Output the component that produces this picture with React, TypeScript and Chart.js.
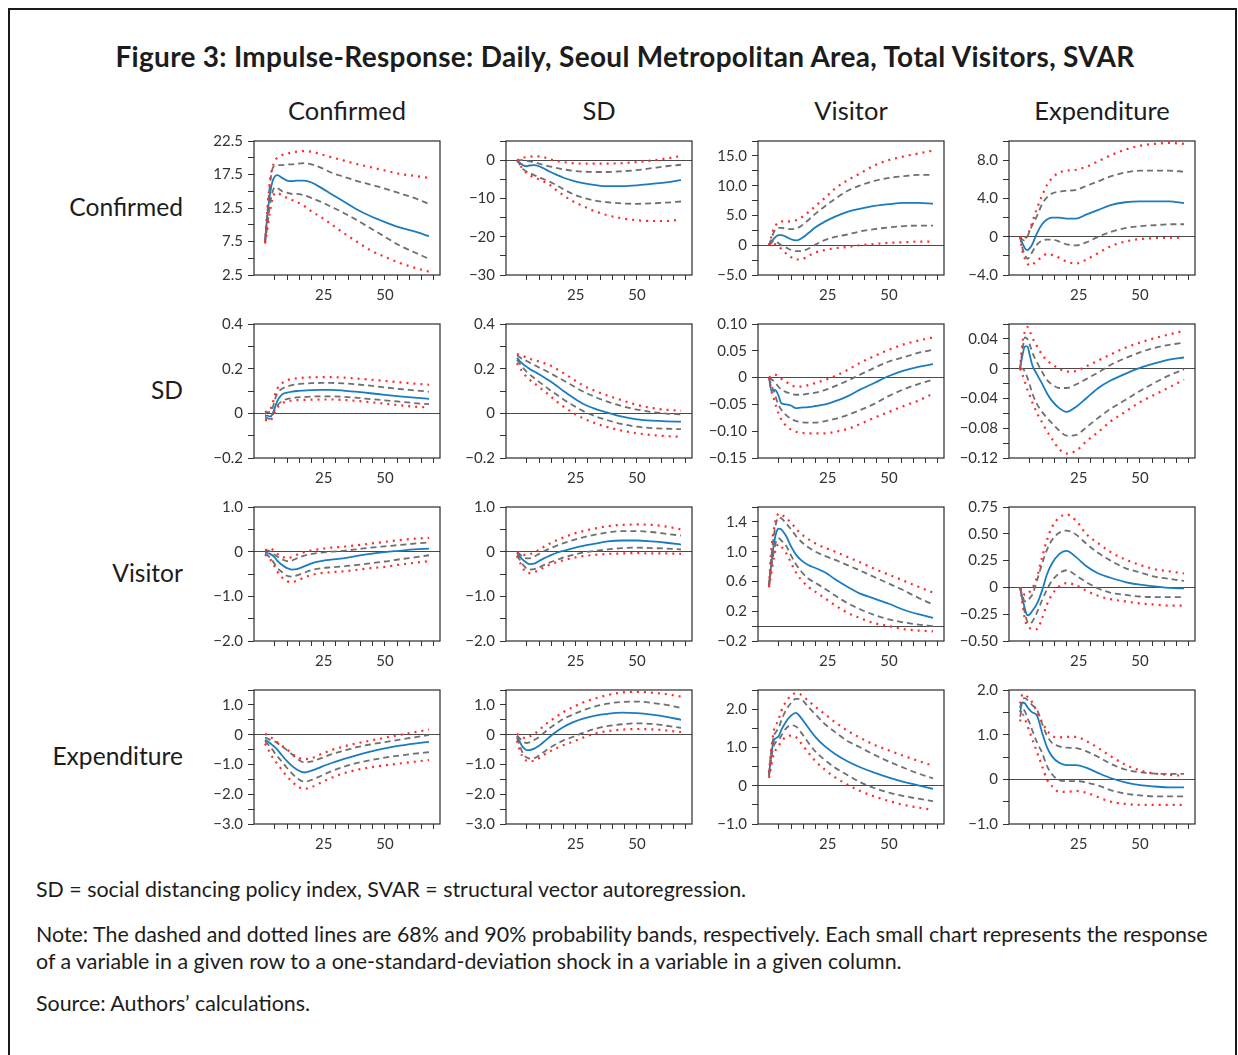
import React, { useEffect, useRef } from 'react';
import { Chart, registerables } from 'chart.js';

Chart.register(...registerables);

// ---------------- data ----------------
const X = [1, 2, 3, 4, 5, 6, 8, 10, 12, 14, 17, 20, 24, 28, 33, 38, 44, 50, 56, 62, 68];
const X_TICKS = [5, 10, 15, 20, 25, 30, 35, 40, 45, 50, 55, 60, 65, 70];
const X_TICK_LABELS = ['', '', '', '', '25', '', '', '', '', '50', '', '', '', ''];

const COL_TITLES = ['Confirmed', 'SD', 'Visitor', 'Expenditure'];
const ROW_TITLES = ['Confirmed', 'SD', 'Visitor', 'Expenditure'];

const TITLE = 'Figure 3: Impulse-Response: Daily, Seoul Metropolitan Area, Total Visitors, SVAR';
const NOTE_1 = 'SD = social distancing policy index, SVAR = structural vector autoregression.';
const NOTE_2a = 'Note: The dashed and dotted lines are 68% and 90% probability bands, respectively. Each small chart represents the response';
const NOTE_2b = 'of a variable in a given row to a one-standard-deviation shock in a variable in a given column.';
const NOTE_3 = 'Source: Authors\u2019 calculations.';

// Row 1: Confirmed response
const R1C1_MED = [7.4, 11.5, 14.5, 16.4, 17.2, 17.4, 17.0, 16.6, 16.5, 16.6, 16.6, 16.3, 15.5, 14.6, 13.5, 12.4, 11.3, 10.4, 9.6, 9.0, 8.3];
const R1C1_HI68 = [7.6, 12.0, 16.0, 18.3, 18.8, 18.9, 18.9, 19.0, 19.0, 19.1, 19.2, 19.0, 18.5, 17.8, 17.2, 16.6, 16.0, 15.4, 14.7, 14.0, 13.1];
const R1C1_LO68 = [7.3, 10.0, 13.0, 14.8, 15.6, 15.5, 15.0, 14.8, 14.6, 14.6, 14.4, 14.0, 13.4, 12.7, 11.8, 10.8, 9.5, 8.2, 6.9, 5.9, 4.9];
const R1C1_HI90 = [7.4, 12.5, 16.5, 18.5, 19.5, 20.0, 20.4, 20.6, 20.8, 20.9, 21.0, 20.9, 20.5, 20.1, 19.6, 19.1, 18.6, 18.1, 17.6, 17.3, 17.0];
const R1C1_LO90 = [7.2, 9.5, 12.0, 13.8, 14.7, 14.8, 14.3, 14.0, 13.7, 13.4, 12.8, 12.0, 11.1, 10.1, 8.8, 7.6, 6.2, 5.2, 4.3, 3.6, 3.0];

const R1C2_MED = [0, -0.6, -1.1, -1.5, -1.6, -1.4, -1.3, -1.6, -2.2, -2.9, -3.8, -4.6, -5.4, -6.0, -6.5, -6.8, -6.8, -6.6, -6.2, -5.8, -5.2];
const R1C2_HI68 = [0, 0, 0, -0.1, -0.2, -0.3, -0.5, -0.9, -1.3, -1.6, -2.0, -2.4, -2.8, -3.0, -3.1, -3.1, -2.9, -2.6, -2.1, -1.6, -1.2];
const R1C2_LO68 = [0, -1.0, -2.0, -2.6, -3.0, -3.3, -3.9, -4.5, -5.0, -5.5, -6.5, -7.6, -8.9, -9.8, -10.6, -11.0, -11.3, -11.4, -11.3, -11.1, -10.8];
const R1C2_HI90 = [0, 0.2, 0.5, 0.7, 0.8, 0.9, 1.0, 1.0, 0.8, 0.3, -0.2, -0.5, -0.8, -0.9, -0.9, -0.9, -0.8, -0.5, -0.1, 0.4, 1.1];
const R1C2_LO90 = [0, -1.0, -2.0, -2.8, -3.4, -3.9, -4.5, -5.0, -5.6, -6.3, -7.8, -9.2, -10.8, -12.0, -13.4, -14.4, -15.2, -15.7, -15.9, -15.9, -15.5];

const R1C3_MED = [0, 0.6, 1.1, 1.5, 1.7, 1.7, 1.4, 1.0, 0.8, 1.1, 2.0, 3.0, 4.0, 4.8, 5.6, 6.1, 6.6, 6.9, 7.1, 7.1, 7.0];
const R1C3_HI68 = [0, 1.2, 2.2, 2.7, 2.9, 2.9, 2.8, 2.7, 2.8, 3.2, 4.2, 5.3, 6.6, 7.8, 9.1, 10.0, 10.8, 11.3, 11.6, 11.8, 11.8];
const R1C3_LO68 = [0, 0.4, 0.7, 0.6, 0.3, 0, -0.4, -0.8, -1.0, -1.0, -0.6, 0.1, 0.9, 1.4, 1.8, 2.3, 2.7, 3.0, 3.2, 3.3, 3.3];
const R1C3_HI90 = [0, 1.5, 2.8, 3.5, 3.9, 4.0, 4.0, 4.0, 4.2, 4.6, 5.5, 6.6, 8.0, 9.5, 10.9, 12.0, 13.4, 14.3, 14.9, 15.4, 15.9];
const R1C3_LO90 = [0, 0.5, 0.3, 0, -0.2, -0.6, -1.4, -2.0, -2.4, -2.4, -1.8, -1.2, -0.8, -0.5, -0.3, 0, 0.2, 0.4, 0.5, 0.6, 0.6];

const R1C4_MED = [0, -0.7, -1.2, -1.4, -1.2, -0.8, 0.4, 1.3, 1.8, 2.0, 2.0, 1.9, 1.9, 2.3, 2.8, 3.3, 3.6, 3.7, 3.7, 3.7, 3.5];
const R1C4_HI68 = [0, -0.3, -0.4, 0, 0.6, 1.2, 2.2, 3.4, 4.1, 4.5, 4.7, 4.8, 4.9, 5.3, 5.8, 6.3, 6.7, 6.9, 6.9, 6.9, 6.8];
const R1C4_LO68 = [0, -1.2, -1.9, -2.3, -2.1, -1.6, -0.8, -0.4, -0.3, -0.3, -0.5, -0.8, -0.9, -0.6, 0, 0.5, 0.9, 1.1, 1.2, 1.3, 1.3];
const R1C4_HI90 = [0, -0.3, -0.2, 0.2, 0.7, 1.5, 3.0, 4.3, 5.4, 6.1, 6.7, 6.9, 7.0, 7.3, 7.9, 8.5, 9.1, 9.5, 9.7, 9.8, 9.7];
const R1C4_LO90 = [0, -1.5, -2.3, -2.8, -3.0, -2.9, -2.5, -2.1, -1.8, -1.9, -2.2, -2.6, -2.8, -2.4, -1.7, -1.0, -0.5, -0.25, -0.15, -0.1, -0.1];

// Row 2: SD response
const R2C1_MED = [-0.012, -0.01, -0.015, -0.005, 0.025, 0.055, 0.085, 0.093, 0.097, 0.1, 0.102, 0.104, 0.105, 0.105, 0.102, 0.097, 0.09, 0.083, 0.076, 0.07, 0.065];
const R2C1_HI68 = [-0.005, 0.005, 0.005, 0.02, 0.06, 0.09, 0.11, 0.12, 0.126, 0.13, 0.133, 0.135, 0.136, 0.136, 0.134, 0.13, 0.124, 0.116, 0.109, 0.103, 0.097];
const R2C1_LO68 = [-0.02, -0.022, -0.025, -0.01, 0.015, 0.035, 0.055, 0.064, 0.068, 0.071, 0.073, 0.075, 0.076, 0.076, 0.074, 0.07, 0.064, 0.058, 0.052, 0.046, 0.041];
const R2C1_HI90 = [0.005, 0.01, 0.015, 0.04, 0.08, 0.11, 0.135, 0.148, 0.154, 0.157, 0.16, 0.161, 0.162, 0.162, 0.16, 0.156, 0.151, 0.145, 0.139, 0.133, 0.128];
const R2C1_LO90 = [-0.03, -0.03, -0.035, -0.02, 0.005, 0.025, 0.045, 0.054, 0.057, 0.059, 0.06, 0.061, 0.062, 0.062, 0.06, 0.056, 0.05, 0.043, 0.036, 0.03, 0.026];

const R2C2_MED = [0.248, 0.235, 0.225, 0.215, 0.208, 0.2, 0.187, 0.175, 0.162, 0.148, 0.125, 0.1, 0.07, 0.043, 0.02, 0.003, -0.015, -0.027, -0.033, -0.036, -0.037];
const R2C2_HI68 = [0.26, 0.252, 0.245, 0.24, 0.234, 0.228, 0.217, 0.205, 0.195, 0.183, 0.165, 0.147, 0.122, 0.098, 0.073, 0.052, 0.032, 0.017, 0.006, -0.001, -0.005];
const R2C2_LO68 = [0.24, 0.225, 0.21, 0.197, 0.185, 0.175, 0.158, 0.141, 0.125, 0.108, 0.085, 0.062, 0.035, 0.01, -0.013, -0.031, -0.048, -0.06, -0.066, -0.069, -0.071];
const R2C2_HI90 = [0.265, 0.262, 0.258, 0.254, 0.25, 0.245, 0.238, 0.232, 0.225, 0.218, 0.2, 0.18, 0.152, 0.125, 0.1, 0.08, 0.058, 0.038, 0.024, 0.016, 0.012];
const R2C2_LO90 = [0.225, 0.205, 0.19, 0.175, 0.163, 0.152, 0.135, 0.118, 0.1, 0.083, 0.055, 0.03, 0.002, -0.022, -0.045, -0.062, -0.078, -0.089, -0.097, -0.102, -0.105];

const R2C3_MED = [0, -0.025, -0.023, -0.025, -0.035, -0.048, -0.05, -0.052, -0.057, -0.056, -0.055, -0.053, -0.05, -0.044, -0.035, -0.023, -0.01, 0.003, 0.013, 0.02, 0.025];
const R2C3_HI68 = [0, -0.003, -0.007, -0.012, -0.018, -0.022, -0.027, -0.03, -0.032, -0.032, -0.03, -0.028, -0.023, -0.016, -0.006, 0.005, 0.018, 0.03, 0.038, 0.046, 0.052];
const R2C3_LO68 = [0, -0.015, -0.025, -0.04, -0.052, -0.06, -0.07, -0.077, -0.081, -0.083, -0.084, -0.084, -0.081, -0.077, -0.07, -0.061, -0.049, -0.034, -0.022, -0.012, -0.004];
const R2C3_HI90 = [0, 0.003, 0.006, 0.005, 0.002, -0.002, -0.008, -0.014, -0.017, -0.017, -0.014, -0.01, -0.004, 0.003, 0.014, 0.027, 0.04, 0.052, 0.062, 0.069, 0.075];
const R2C3_LO90 = [0, -0.025, -0.04, -0.055, -0.068, -0.078, -0.09, -0.097, -0.101, -0.103, -0.104, -0.104, -0.104, -0.101, -0.096, -0.087, -0.075, -0.064, -0.053, -0.043, -0.03];

const R2C4_MED = [0, 0.018, 0.03, 0.03, 0.018, 0.005, -0.008, -0.02, -0.033, -0.043, -0.053, -0.058, -0.051, -0.04, -0.026, -0.016, -0.007, 0.001, 0.007, 0.012, 0.015];
const R2C4_HI68 = [0, 0.025, 0.042, 0.04, 0.032, 0.022, 0.008, -0.004, -0.015, -0.021, -0.026, -0.026, -0.021, -0.014, -0.005, 0.005, 0.014, 0.022, 0.028, 0.032, 0.035];
const R2C4_LO68 = [0, 0, -0.004, -0.012, -0.022, -0.033, -0.048, -0.058, -0.066, -0.073, -0.083, -0.09, -0.089, -0.079, -0.066, -0.054, -0.042, -0.03, -0.019, -0.009, -0.001];
const R2C4_HI90 = [0, 0.035, 0.05, 0.056, 0.05, 0.042, 0.03, 0.019, 0.011, 0.006, 0, -0.004, -0.003, 0.003, 0.011, 0.019, 0.028, 0.035, 0.041, 0.046, 0.051];
const R2C4_LO90 = [0, -0.008, -0.018, -0.028, -0.036, -0.045, -0.06, -0.072, -0.084, -0.094, -0.108, -0.114, -0.11, -0.098, -0.085, -0.071, -0.058, -0.045, -0.035, -0.025, -0.015];

// Row 3: Visitor response
const R3C1_MED = [-0.02, -0.03, -0.05, -0.08, -0.13, -0.2, -0.3, -0.37, -0.4, -0.39, -0.33, -0.26, -0.21, -0.18, -0.15, -0.1, -0.05, -0.01, 0.02, 0.05, 0.07];
const R3C1_HI68 = [0.02, 0.03, 0.01, -0.03, -0.07, -0.11, -0.17, -0.21, -0.2, -0.15, -0.09, -0.05, -0.02, 0, 0.02, 0.05, 0.09, 0.12, 0.15, 0.18, 0.21];
const R3C1_LO68 = [-0.05, -0.08, -0.13, -0.2, -0.28, -0.36, -0.46, -0.54, -0.56, -0.53, -0.47, -0.41, -0.37, -0.35, -0.33, -0.3, -0.26, -0.22, -0.17, -0.13, -0.08];
const R3C1_HI90 = [0.03, 0.05, 0.07, 0.05, -0.01, -0.05, -0.11, -0.15, -0.12, -0.07, -0.01, 0.03, 0.06, 0.09, 0.11, 0.14, 0.18, 0.22, 0.26, 0.29, 0.31];
const R3C1_LO90 = [-0.07, -0.1, -0.16, -0.24, -0.34, -0.44, -0.58, -0.66, -0.68, -0.65, -0.58, -0.52, -0.48, -0.46, -0.44, -0.41, -0.37, -0.34, -0.29, -0.25, -0.21];

const R3C2_MED = [-0.03, -0.1, -0.16, -0.21, -0.25, -0.28, -0.27, -0.21, -0.15, -0.1, -0.03, 0.02, 0.08, 0.13, 0.18, 0.23, 0.25, 0.25, 0.23, 0.2, 0.16];
const R3C2_HI68 = [-0.01, -0.05, -0.1, -0.13, -0.15, -0.15, -0.11, -0.05, 0.01, 0.06, 0.13, 0.19, 0.26, 0.32, 0.38, 0.43, 0.46, 0.46, 0.44, 0.4, 0.36];
const R3C2_LO68 = [-0.08, -0.17, -0.26, -0.33, -0.38, -0.4, -0.39, -0.35, -0.3, -0.25, -0.19, -0.13, -0.07, -0.02, 0.02, 0.05, 0.08, 0.09, 0.08, 0.07, 0.05];
const R3C2_HI90 = [0, -0.02, -0.05, -0.07, -0.07, -0.06, -0.02, 0.04, 0.11, 0.17, 0.25, 0.32, 0.4, 0.46, 0.52, 0.57, 0.6, 0.61, 0.6, 0.56, 0.5];
const R3C2_LO90 = [-0.1, -0.22, -0.33, -0.42, -0.47, -0.48, -0.46, -0.41, -0.35, -0.3, -0.24, -0.19, -0.14, -0.1, -0.07, -0.05, -0.04, -0.03, -0.04, -0.04, -0.05];

const R3C3_MED = [0.55, 0.85, 1.1, 1.26, 1.31, 1.3, 1.21, 1.07, 0.96, 0.89, 0.82, 0.78, 0.72, 0.63, 0.53, 0.44, 0.37, 0.3, 0.22, 0.16, 0.11];
const R3C3_HI68 = [0.55, 0.95, 1.22, 1.4, 1.46, 1.45, 1.38, 1.3, 1.21, 1.14, 1.06, 1.0, 0.94, 0.89, 0.82, 0.75, 0.66, 0.57, 0.48, 0.38, 0.29];
const R3C3_LO68 = [0.53, 0.8, 1.0, 1.15, 1.18, 1.15, 1.08, 0.95, 0.83, 0.74, 0.64, 0.58, 0.5, 0.41, 0.31, 0.23, 0.15, 0.09, 0.05, 0.02, 0.0];
const R3C3_HI90 = [0.55, 1.05, 1.3, 1.45, 1.51, 1.5, 1.45, 1.39, 1.31, 1.24, 1.17, 1.11, 1.05, 1.0, 0.93, 0.86, 0.77, 0.69, 0.61, 0.53, 0.45];
const R3C3_LO90 = [0.52, 0.72, 0.92, 1.06, 1.1, 1.07, 0.98, 0.85, 0.72, 0.63, 0.53, 0.46, 0.37, 0.28, 0.18, 0.11, 0.04, 0.0, -0.04, -0.06, -0.07];

const R3C4_MED = [0, -0.1, -0.2, -0.26, -0.25, -0.22, -0.15, -0.03, 0.12, 0.22, 0.31, 0.34, 0.28, 0.2, 0.13, 0.09, 0.05, 0.025, 0.01, -0.005, -0.01];
const R3C4_HI68 = [0, -0.08, -0.13, -0.13, -0.1, -0.07, 0.07, 0.22, 0.35, 0.44, 0.51, 0.53, 0.49, 0.41, 0.32, 0.25, 0.18, 0.14, 0.1, 0.08, 0.06];
const R3C4_LO68 = [0, -0.12, -0.24, -0.32, -0.34, -0.32, -0.23, -0.12, -0.02, 0.06, 0.13, 0.16, 0.11, 0.05, -0.01, -0.05, -0.07, -0.085, -0.09, -0.09, -0.09];
const R3C4_HI90 = [0, -0.04, -0.07, -0.06, -0.04, -0.01, 0.1, 0.28, 0.44, 0.56, 0.65, 0.68, 0.62, 0.5, 0.41, 0.33, 0.26, 0.21, 0.17, 0.15, 0.13];
const R3C4_LO90 = [0, -0.15, -0.3, -0.36, -0.38, -0.39, -0.39, -0.29, -0.16, -0.07, 0.01, 0.04, 0.02, -0.03, -0.08, -0.11, -0.13, -0.15, -0.16, -0.17, -0.17];

// Row 4: Expenditure response
const R4C1_MED = [-0.17, -0.22, -0.28, -0.35, -0.42, -0.5, -0.7, -0.89, -1.05, -1.17, -1.27, -1.21, -1.08, -0.96, -0.82, -0.7, -0.57, -0.46, -0.37, -0.3, -0.24];
const R4C1_HI68 = [-0.1, -0.13, -0.17, -0.2, -0.23, -0.28, -0.4, -0.52, -0.66, -0.8, -0.93, -0.9, -0.79, -0.66, -0.54, -0.43, -0.33, -0.25, -0.17, -0.09, -0.01];
const R4C1_LO68 = [-0.22, -0.3, -0.4, -0.5, -0.62, -0.72, -0.92, -1.12, -1.3, -1.46, -1.58, -1.52, -1.38, -1.23, -1.08, -0.96, -0.86, -0.77, -0.7, -0.64, -0.59];
const R4C1_HI90 = [0.03, -0.02, -0.07, -0.12, -0.18, -0.25, -0.38, -0.5, -0.63, -0.75, -0.82, -0.79, -0.65, -0.52, -0.4, -0.3, -0.2, -0.1, -0.01, 0.08, 0.17];
const R4C1_LO90 = [-0.3, -0.45, -0.6, -0.75, -0.88, -0.97, -1.2, -1.4, -1.57, -1.72, -1.82, -1.76, -1.6, -1.45, -1.3, -1.19, -1.1, -1.03, -0.97, -0.91, -0.85];

const R4C2_MED = [-0.05, -0.22, -0.37, -0.47, -0.52, -0.52, -0.47, -0.37, -0.24, -0.1, 0.1, 0.26, 0.42, 0.54, 0.64, 0.7, 0.74, 0.72, 0.67, 0.6, 0.5];
const R4C2_HI68 = [-0.03, -0.12, -0.2, -0.26, -0.28, -0.26, -0.18, -0.08, 0.06, 0.2, 0.37, 0.53, 0.68, 0.82, 0.95, 1.04, 1.1, 1.11, 1.07, 1.0, 0.9];
const R4C2_LO68 = [-0.1, -0.35, -0.55, -0.7, -0.77, -0.8, -0.79, -0.7, -0.58, -0.46, -0.32, -0.19, -0.07, 0.06, 0.2, 0.29, 0.35, 0.38, 0.36, 0.3, 0.23];
const R4C2_HI90 = [0.03, -0.03, -0.08, -0.11, -0.11, -0.07, 0.02, 0.15, 0.3, 0.43, 0.6, 0.76, 0.93, 1.08, 1.22, 1.33, 1.42, 1.44, 1.41, 1.36, 1.28];
const R4C2_LO90 = [-0.2, -0.5, -0.7, -0.82, -0.88, -0.9, -0.87, -0.79, -0.68, -0.58, -0.46, -0.35, -0.23, -0.1, 0.04, 0.12, 0.17, 0.19, 0.18, 0.14, 0.09];

const R4C3_MED = [0.27, 0.85, 1.18, 1.25, 1.3, 1.45, 1.68, 1.83, 1.9, 1.78, 1.52, 1.27, 1.02, 0.83, 0.64, 0.49, 0.34, 0.21, 0.1, 0.01, -0.08];
const R4C3_HI68 = [0.3, 0.95, 1.3, 1.42, 1.52, 1.7, 1.98, 2.16, 2.27, 2.26, 2.06, 1.86, 1.6, 1.4, 1.17, 1.01, 0.81, 0.63, 0.47, 0.32, 0.19];
const R4C3_LO68 = [0.25, 0.75, 1.05, 1.15, 1.2, 1.3, 1.5, 1.58, 1.55, 1.4, 1.13, 0.89, 0.66, 0.47, 0.28, 0.1, -0.06, -0.18, -0.27, -0.34, -0.4];
const R4C3_HI90 = [0.35, 1.0, 1.45, 1.6, 1.75, 1.95, 2.2, 2.35, 2.42, 2.38, 2.22, 2.06, 1.86, 1.66, 1.44, 1.26, 1.07, 0.92, 0.78, 0.65, 0.52];
const R4C3_LO90 = [0.2, 0.55, 0.85, 0.95, 1.05, 1.15, 1.28, 1.31, 1.27, 1.12, 0.87, 0.64, 0.41, 0.22, 0.03, -0.13, -0.28, -0.4, -0.5, -0.57, -0.63];

const R4C4_MED = [1.5, 1.72, 1.7, 1.62, 1.55, 1.5, 1.42, 1.05, 0.72, 0.52, 0.37, 0.32, 0.32, 0.26, 0.14, 0.03, -0.07, -0.13, -0.16, -0.18, -0.18];
const R4C4_HI68 = [1.6, 1.8, 1.82, 1.78, 1.72, 1.66, 1.55, 1.25, 0.98, 0.82, 0.74, 0.71, 0.7, 0.63, 0.5, 0.35, 0.22, 0.16, 0.13, 0.12, 0.12];
const R4C4_LO68 = [1.4, 1.58, 1.52, 1.38, 1.25, 1.1, 0.82, 0.6, 0.3, 0.12, -0.02, -0.04, -0.04, -0.07, -0.14, -0.24, -0.32, -0.36, -0.38, -0.38, -0.38];
const R4C4_HI90 = [1.7, 1.9, 1.9, 1.85, 1.8, 1.72, 1.5, 1.28, 1.1, 0.98, 0.94, 0.95, 0.95, 0.86, 0.7, 0.52, 0.33, 0.2, 0.13, 0.1, 0.08];
const R4C4_LO90 = [1.3, 1.45, 1.35, 1.2, 1.05, 0.9, 0.6, 0.3, 0.0, -0.15, -0.28, -0.28, -0.26, -0.3, -0.4, -0.5, -0.55, -0.57, -0.57, -0.57, -0.57];

// y-axis ticks and labels per panel
const Y11_TICKS = [2.5, 5, 7.5, 10, 12.5, 15, 17.5, 20, 22.5];
const Y11_LABELS = ['2.5', '', '7.5', '', '12.5', '', '17.5', '', '22.5'];
const Y12_TICKS = [-30, -25, -20, -15, -10, -5, 0, 5];
const Y12_LABELS = ['\u221230', '', '\u221220', '', '\u221210', '', '0', ''];
const Y13_TICKS = [-5, -2.5, 0, 2.5, 5, 7.5, 10, 12.5, 15, 17.5];
const Y13_LABELS = ['\u22125.0', '', '0', '', '5.0', '', '10.0', '', '15.0', ''];
const Y14_TICKS = [-4, -2, 0, 2, 4, 6, 8, 10];
const Y14_LABELS = ['\u22124.0', '', '0', '', '4.0', '', '8.0', ''];
const Y2A_TICKS = [-0.2, -0.1, 0, 0.1, 0.2, 0.3, 0.4];
const Y2A_LABELS = ['\u22120.2', '', '0', '', '0.2', '', '0.4'];
const Y23_TICKS = [-0.15, -0.1, -0.05, 0, 0.05, 0.1];
const Y23_LABELS = ['\u22120.15', '\u22120.10', '\u22120.05', '0', '0.05', '0.10'];
const Y24_TICKS = [-0.12, -0.1, -0.08, -0.06, -0.04, -0.02, 0, 0.02, 0.04, 0.06];
const Y24_LABELS = ['\u22120.12', '', '\u22120.08', '', '\u22120.04', '', '0', '', '0.04', ''];
const Y3A_TICKS = [-2, -1.5, -1, -0.5, 0, 0.5, 1];
const Y3A_LABELS = ['\u22122.0', '', '\u22121.0', '', '0', '', '1.0'];
const Y33_TICKS = [-0.2, 0, 0.2, 0.4, 0.6, 0.8, 1.0, 1.2, 1.4, 1.6];
const Y33_LABELS = ['\u22120.2', '', '0.2', '', '0.6', '', '1.0', '', '1.4', ''];
const Y34_TICKS = [-0.5, -0.25, 0, 0.25, 0.5, 0.75];
const Y34_LABELS = ['\u22120.50', '\u22120.25', '0', '0.25', '0.50', '0.75'];
const Y4A_TICKS = [-3, -2.5, -2, -1.5, -1, -0.5, 0, 0.5, 1, 1.5];
const Y4A_LABELS = ['\u22123.0', '', '\u22122.0', '', '\u22121.0', '', '0', '', '1.0', ''];
const Y43_TICKS = [-1, -0.5, 0, 0.5, 1, 1.5, 2, 2.5];
const Y43_LABELS = ['\u22121.0', '', '0', '', '1.0', '', '2.0', ''];
const Y44_TICKS = [-1, -0.5, 0, 0.5, 1, 1.5, 2];
const Y44_LABELS = ['\u22121.0', '', '0', '', '1.0', '', '2.0'];

type PanelData = {
  med: number[]; hi68: number[]; lo68: number[]; hi90: number[]; lo90: number[];
  yMin: number; yMax: number; yTicks: number[]; yLabels: string[];
};

const mk = (med: number[], hi68: number[], lo68: number[], hi90: number[], lo90: number[],
  yMin: number, yMax: number, yTicks: number[], yLabels: string[]): PanelData =>
  ({ med, hi68, lo68, hi90, lo90, yMin, yMax, yTicks, yLabels });

const PANELS: PanelData[][] = [
  [
    mk(R1C1_MED, R1C1_HI68, R1C1_LO68, R1C1_HI90, R1C1_LO90, 2.5, 22.5, Y11_TICKS, Y11_LABELS),
    mk(R1C2_MED, R1C2_HI68, R1C2_LO68, R1C2_HI90, R1C2_LO90, -30, 5, Y12_TICKS, Y12_LABELS),
    mk(R1C3_MED, R1C3_HI68, R1C3_LO68, R1C3_HI90, R1C3_LO90, -5, 17.5, Y13_TICKS, Y13_LABELS),
    mk(R1C4_MED, R1C4_HI68, R1C4_LO68, R1C4_HI90, R1C4_LO90, -4, 10, Y14_TICKS, Y14_LABELS),
  ],
  [
    mk(R2C1_MED, R2C1_HI68, R2C1_LO68, R2C1_HI90, R2C1_LO90, -0.2, 0.4, Y2A_TICKS, Y2A_LABELS),
    mk(R2C2_MED, R2C2_HI68, R2C2_LO68, R2C2_HI90, R2C2_LO90, -0.2, 0.4, Y2A_TICKS, Y2A_LABELS),
    mk(R2C3_MED, R2C3_HI68, R2C3_LO68, R2C3_HI90, R2C3_LO90, -0.15, 0.1, Y23_TICKS, Y23_LABELS),
    mk(R2C4_MED, R2C4_HI68, R2C4_LO68, R2C4_HI90, R2C4_LO90, -0.12, 0.06, Y24_TICKS, Y24_LABELS),
  ],
  [
    mk(R3C1_MED, R3C1_HI68, R3C1_LO68, R3C1_HI90, R3C1_LO90, -2, 1, Y3A_TICKS, Y3A_LABELS),
    mk(R3C2_MED, R3C2_HI68, R3C2_LO68, R3C2_HI90, R3C2_LO90, -2, 1, Y3A_TICKS, Y3A_LABELS),
    mk(R3C3_MED, R3C3_HI68, R3C3_LO68, R3C3_HI90, R3C3_LO90, -0.2, 1.6, Y33_TICKS, Y33_LABELS),
    mk(R3C4_MED, R3C4_HI68, R3C4_LO68, R3C4_HI90, R3C4_LO90, -0.5, 0.75, Y34_TICKS, Y34_LABELS),
  ],
  [
    mk(R4C1_MED, R4C1_HI68, R4C1_LO68, R4C1_HI90, R4C1_LO90, -3, 1.5, Y4A_TICKS, Y4A_LABELS),
    mk(R4C2_MED, R4C2_HI68, R4C2_LO68, R4C2_HI90, R4C2_LO90, -3, 1.5, Y4A_TICKS, Y4A_LABELS),
    mk(R4C3_MED, R4C3_HI68, R4C3_LO68, R4C3_HI90, R4C3_LO90, -1, 2.5, Y43_TICKS, Y43_LABELS),
    mk(R4C4_MED, R4C4_HI68, R4C4_LO68, R4C4_HI90, R4C4_LO90, -1, 2, Y44_TICKS, Y44_LABELS),
  ],
];

// ---------------- layout ----------------
const COL_LEFT = [254, 506, 758, 1009];
const ROW_TOP = [139, 322, 505, 688];
const PLOT_W = 186;
const PLOT_H = 136;
const PAD_L = 62;
const PAD_T = 12;
const PAD_R = 8;
const PAD_B = 32;
const CANVAS_W = PLOT_W + PAD_L + PAD_R;
const CANVAS_H = PLOT_H + PAD_T + PAD_B;

const FONT = 'Lato, "Open Sans", "DejaVu Sans", sans-serif';
const TEXT = '#1c1c1c';
const BLUE = '#1b7bbf';
const GRAY = '#6f6f6f';
const RED = '#ff2b2b';

const framePlugin = {
  id: 'frame',
  afterDraw(chart: any) {
    const { ctx, chartArea: a } = chart;
    ctx.save();
    ctx.strokeStyle = '#2a2a2a';
    ctx.lineWidth = 1.2;
    ctx.strokeRect(a.left, a.top, a.right - a.left, a.bottom - a.top);
    ctx.restore();
  },
};

function line(values: number[], color: string, dash: number[], width: number) {
  return {
    data: X.map((x, i) => ({ x, y: values[i] })),
    borderColor: color,
    borderWidth: width,
    borderDash: dash,
    pointRadius: 0,
    fill: false,
    cubicInterpolationMode: 'monotone' as const,
  };
}

function Panel({ p, left, top }: { p: PanelData; left: number; top: number }) {
  const ref = useRef<HTMLCanvasElement>(null);
  useEffect(() => {
    if (!ref.current) return;
    const labelFor = (ticks: number[], labels: string[], v: number) => {
      const i = ticks.findIndex((t) => Math.abs(t - v) < 1e-9);
      return i >= 0 ? labels[i] : '';
    };
    const chart = new Chart(ref.current, {
      type: 'line',
      data: {
        datasets: [
          line(p.hi90, RED, [2, 5], 2.2),
          line(p.lo90, RED, [2, 5], 2.2),
          line(p.hi68, GRAY, [6, 4], 1.8),
          line(p.lo68, GRAY, [6, 4], 1.8),
          line(p.med, BLUE, [], 1.8),
        ],
      },
      options: {
        animation: false,
        responsive: false,
        maintainAspectRatio: false,
        layout: { padding: { top: PAD_T, right: PAD_R, left: 0, bottom: 0 } },
        plugins: { legend: { display: false }, tooltip: { enabled: false }, title: { display: false } },
        scales: {
          x: {
            type: 'linear',
            min: -3.5,
            max: 72.5,
            afterBuildTicks: (s: any) => { s.ticks = X_TICKS.map((v) => ({ value: v })); },
            afterFit: (s: any) => { s.height = PAD_B; },
            ticks: {
              autoSkip: false,
              maxRotation: 0,
              padding: 6,
              color: '#333',
              font: { family: FONT, size: 15 },
              callback: (v: any) => labelFor(X_TICKS, X_TICK_LABELS, Number(v)),
            },
            grid: { drawOnChartArea: false, drawTicks: true, tickLength: 5, color: '#333', lineWidth: 1 },
            border: { display: false },
          },
          y: {
            type: 'linear',
            min: p.yMin,
            max: p.yMax,
            afterBuildTicks: (s: any) => { s.ticks = p.yTicks.map((v) => ({ value: v })); },
            afterFit: (s: any) => { s.width = PAD_L; },
            ticks: {
              autoSkip: false,
              padding: 5,
              color: '#333',
              font: { family: FONT, size: 15 },
              callback: (v: any) => labelFor(p.yTicks, p.yLabels, Number(v)),
            },
            grid: {
              drawOnChartArea: true,
              drawTicks: true,
              tickLength: 6,
              lineWidth: 1,
              color: (c: any) => (c.tick && Math.abs(c.tick.value) < 1e-9 ? '#4a4a4a' : 'rgba(0,0,0,0)'),
              tickColor: '#333',
            },
            border: { display: false },
          },
        },
      } as any,
      plugins: [framePlugin],
    });
    return () => chart.destroy();
  }, [p]);
  return (
    <canvas
      ref={ref}
      width={CANVAS_W}
      height={CANVAS_H}
      style={{ position: 'absolute', left, top, width: CANVAS_W, height: CANVAS_H }}
    />
  );
}

export default function App() {
  return (
    <div style={{ position: 'absolute', left: 0, top: 0, width: 1238, height: 1055, overflow: 'hidden', background: '#fff', fontFamily: FONT, color: TEXT }}>
      <div style={{ position: 'absolute', left: 8, top: 8, width: 1229, height: 1070, border: '2px solid #1a1a1a', boxSizing: 'border-box' }} />
      <div style={{ position: 'absolute', left: 0, top: 39, width: 1250, textAlign: 'center', fontSize: 28, fontWeight: 700, lineHeight: '34px', letterSpacing: '0.3px', whiteSpace: 'nowrap' }}>
        {TITLE}
      </div>
      {COL_TITLES.map((t, c) => (
        <div key={'c' + c} style={{ position: 'absolute', left: COL_LEFT[c] - 60, width: PLOT_W + 120, top: 95, textAlign: 'center', fontSize: 25.5, lineHeight: '30px' }}>
          {t}
        </div>
      ))}
      {ROW_TITLES.map((t, r) => (
        <div key={'r' + r} style={{ position: 'absolute', left: 0, width: 183, top: ROW_TOP[r] + PLOT_H / 2 - 15, textAlign: 'right', fontSize: 24.6, lineHeight: '30px' }}>
          {t}
        </div>
      ))}
      {PANELS.map((row, r) =>
        row.map((p, c) => (
          <Panel key={r + '-' + c} p={p} left={COL_LEFT[c] - PAD_L} top={ROW_TOP[r] - PAD_T} />
        ))
      )}
      <div style={{ position: 'absolute', left: 36, top: 876, fontSize: 21.4, lineHeight: '27px', whiteSpace: 'nowrap' }}>{NOTE_1}</div>
      <div style={{ position: 'absolute', left: 36, top: 921, fontSize: 21.4, lineHeight: '27px', whiteSpace: 'nowrap' }}>
        {NOTE_2a}
        <br />
        {NOTE_2b}
      </div>
      <div style={{ position: 'absolute', left: 36, top: 990, fontSize: 21.4, lineHeight: '27px', whiteSpace: 'nowrap' }}>{NOTE_3}</div>
    </div>
  );
}
